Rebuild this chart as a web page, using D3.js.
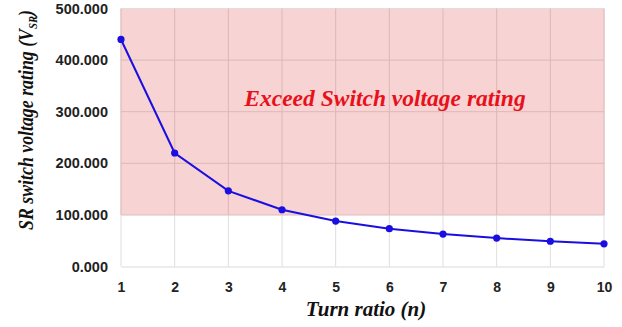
<!DOCTYPE html>
<html>
<head>
<meta charset="utf-8">
<script src="https://cdn.jsdelivr.net/npm/d3@7"></script>
<style>
  html, body { margin: 0; padding: 0; background: #fff; }
  svg { display: block; }
</style>
</head>
<body>
<svg id="chart" width="622" height="327"></svg>
<script>
// Turn ratio n versus SR switch voltage rating
const turnRatio = [1, 2, 3, 4, 5, 6, 7, 8, 9, 10];
const voltageRating = [440, 220, 146.667, 110, 88, 73.333, 62.857, 55, 48.889, 44];
const yTicks = [0, 100, 200, 300, 400, 500];
const limitValue = 100;   // switch voltage rating limit
const yMax = 500;

const svg = d3.select("#chart");
const margin = { left: 121, right: 18, top: 8.5, bottom: 60.5 };
const W = 622, H = 327;

const x = d3.scaleLinear().domain([1, 10]).range([margin.left, W - margin.right]);
const y = d3.scaleLinear().domain([0, yMax]).range([H - margin.bottom, margin.top]);

// shaded region above the voltage limit
svg.append("rect")
  .attr("x", x(1)).attr("y", y(yMax))
  .attr("width", x(10) - x(1)).attr("height", y(limitValue) - y(yMax))
  .attr("fill", "#f7d3d3");

// gridlines
const grid = svg.append("g");
grid.selectAll("line.v").data(turnRatio).join("line")
  .attr("x1", d => x(d)).attr("x2", d => x(d))
  .attr("y1", y(0)).attr("y2", y(yMax))
  .attr("stroke", "#dedede").attr("stroke-width", 1);
grid.selectAll("line.h").data(yTicks.filter(d => d > 0)).join("line")
  .attr("x1", x(1)).attr("x2", x(10))
  .attr("y1", d => y(d)).attr("y2", d => y(d))
  .attr("stroke", "#dedede").attr("stroke-width", 1);
// darker grid tint inside the shaded region
grid.selectAll("line.vp").data(turnRatio).join("line")
  .attr("x1", d => x(d)).attr("x2", d => x(d))
  .attr("y1", y(limitValue)).attr("y2", y(yMax))
  .attr("stroke", "#e3b4b4").attr("stroke-width", 1);
grid.selectAll("line.hp").data(yTicks.filter(d => d > limitValue && d < yMax)).join("line")
  .attr("x1", x(1)).attr("x2", x(10))
  .attr("y1", d => y(d)).attr("y2", d => y(d))
  .attr("stroke", "#e3b4b4").attr("stroke-width", 1);
svg.append("line")
  .attr("x1", x(1)).attr("x2", x(10)).attr("y1", y(limitValue)).attr("y2", y(limitValue))
  .attr("stroke", "#e8bcbc").attr("stroke-width", 1);

// axes
const xAxis = svg.append("g")
  .attr("transform", `translate(0,${y(0)})`)
  .call(d3.axisBottom(x).tickValues(turnRatio).tickFormat(d3.format("d")).tickSize(0).tickPadding(16));
xAxis.select(".domain").attr("stroke", "#d9d9d9");
xAxis.selectAll("text")
  .attr("font-family", "'Liberation Sans', Arial, sans-serif")
  .attr("font-weight", "bold").attr("font-size", 14).attr("fill", "#222");

const yAxis = svg.append("g")
  .attr("transform", `translate(${x(1)},0)`)
  .call(d3.axisLeft(y).tickValues(yTicks).tickFormat(d3.format(".3f")).tickSize(0).tickPadding(13));
yAxis.select(".domain").remove();
yAxis.selectAll("text")
  .attr("font-family", "'Liberation Sans', Arial, sans-serif")
  .attr("font-weight", "bold").attr("font-size", 14.5).attr("fill", "#222");

// data line and markers
const pts = turnRatio.map((n, i) => [n, voltageRating[i]]);
svg.append("path")
  .datum(pts)
  .attr("fill", "none")
  .attr("stroke", "#1a0fe0")
  .attr("stroke-width", 2)
  .attr("d", d3.line().x(d => x(d[0])).y(d => y(d[1])));
svg.selectAll("circle.pt").data(pts).join("circle")
  .attr("cx", d => x(d[0])).attr("cy", d => y(d[1]))
  .attr("r", 3.6).attr("fill", "#1a0fe0");

// annotation
svg.append("text")
  .attr("x", 385).attr("y", 106)
  .attr("text-anchor", "middle")
  .attr("font-family", "'Liberation Serif', 'Times New Roman', serif")
  .attr("font-style", "italic").attr("font-weight", "bold").attr("font-size", 23.5)
  .attr("fill", "#e8101a")
  .text("Exceed Switch voltage rating");

// axis titles
svg.append("text")
  .attr("x", 366).attr("y", 316)
  .attr("text-anchor", "middle")
  .attr("font-family", "'Liberation Serif', 'Times New Roman', serif")
  .attr("font-style", "italic").attr("font-weight", "bold").attr("font-size", 21)
  .attr("fill", "#111")
  .text("Turn ratio (n)");

// y title: tall, slightly condensed lettering, fitted to the available height
const yt = svg.append("text")
  .attr("text-anchor", "middle")
  .attr("font-family", "'Liberation Serif', 'Times New Roman', serif")
  .attr("font-style", "italic").attr("font-weight", "bold").attr("font-size", 20)
  .attr("fill", "#111");
yt.append("tspan").text("SR switch voltage rating (V");
yt.append("tspan").attr("font-size", 12).attr("dy", 4).text("SR");
yt.append("tspan").attr("dy", -4).text(")");
const natural = yt.node().getComputedTextLength();
const sx = Math.min(1, 220 / natural);
yt.attr("transform", `translate(33,120) rotate(-90) scale(${sx},1)`);
</script>
</body>
</html>
